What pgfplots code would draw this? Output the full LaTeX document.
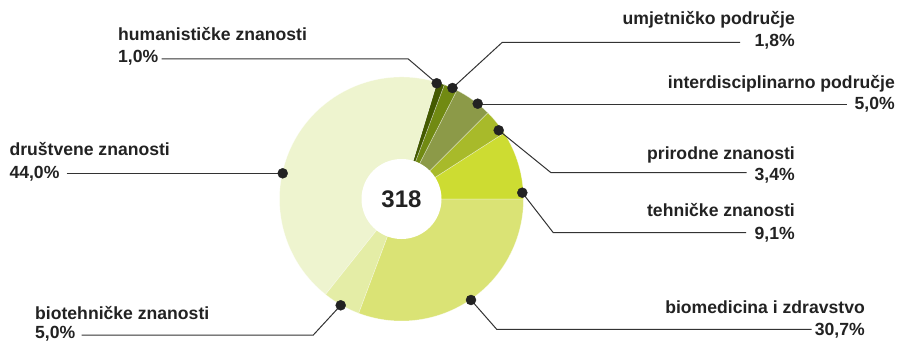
\documentclass[border=0pt]{standalone}
\usepackage{pgfplots}
\pgfplotsset{compat=1.18}
\usepackage{pgfplotstable}
\usepackage{fontspec}
\setmainfont{Liberation Sans}
\definecolor{cTeh}{HTML}{CDDC32}
\definecolor{cPri}{HTML}{A8BA2A}
\definecolor{cInt}{HTML}{8C9A48}
\definecolor{cUmj}{HTML}{718A12}
\definecolor{cHum}{HTML}{445A00}
\definecolor{cDru}{HTML}{EEF4CF}
\definecolor{cBio}{HTML}{E4EDA6}
\definecolor{cMed}{HTML}{DAE375}
\definecolor{txtC}{HTML}{222222}
\definecolor{lineC}{HTML}{333333}
\pgfplotstableread{
share color
9.1 cTeh
3.4 cPri
5.0 cInt
1.8 cUmj
1.0 cHum
44.0 cDru
5.0 cBio
30.7 cMed
}\piedata
\begin{document}
\begin{tikzpicture}[lab/.style={font=\bfseries\fontsize{17.6}{20}\selectfont,text=txtC,inner sep=0pt}]
\begin{axis}[width=897pt,height=342pt,scale only axis,
  xmin=0,xmax=897,ymin=0,ymax=342,y dir=reverse,hide axis,clip=false]
\pgfplotsextra{%
  \xdef\cumul{0}%
  \pgfplotstableforeachcolumnelement{share}\of\piedata\as\val{%
    \pgfplotstablegetelem{\pgfplotstablerow}{color}\of\piedata
    \edef\col{\pgfplotsretval}%
    \pgfmathsetmacro{\angA}{\cumul*3.6}%
    \pgfmathsetmacro{\angB}{(\cumul+\val)*3.6}%
    \fill[fill=\col, draw=white, line width=0.5pt, draw opacity=0.5] (axis cs:401.5,199) -- ++(\angA:122pt) arc[start angle=\angA, end angle=\angB, radius=122pt] -- cycle;
    \pgfmathsetmacro{\tmp}{\cumul+\val}%
    \xdef\cumul{\tmp}%
  }%
  \fill[white] (axis cs:401.5,199) circle[radius=40pt];
}
% leader lines
\addplot[no marks, draw=lineC, line width=1pt] coordinates {(161.7,59) (408.3,59) (436.7,83.3)};
\addplot[no marks, draw=lineC, line width=1pt] coordinates {(740,42.3) (502.3,42.3) (452.5,88)};
\addplot[no marks, draw=lineC, line width=1pt] coordinates {(846.7,104.3) (477.7,104.3)};
\addplot[no marks, draw=lineC, line width=1pt] coordinates {(746.7,172.7) (551,172.7) (498.7,130.3)};
\addplot[no marks, draw=lineC, line width=1pt] coordinates {(746,232.7) (553.3,232.7) (522.3,192.7)};
\addplot[no marks, draw=lineC, line width=1pt] coordinates {(811.7,329.3) (496.7,329.3) (471,300)};
\addplot[no marks, draw=lineC, line width=1pt] coordinates {(66.7,173.3) (282.7,173.3)};
\addplot[no marks, draw=lineC, line width=1pt] coordinates {(81.7,335) (313.3,335) (340.7,305.3)};
% dots
\addplot[only marks, mark=*, mark size=5pt, mark options={fill=txtC, draw=txtC}] coordinates {
(436.7,83.3) (452.5,88) (477.7,103.7) (498.7,130.3) (522.3,192.7) (471,300) (282.7,173.3) (340.7,305.3)};
% labels
\node[lab,anchor=base west] at (axis cs:118,40.5) {humanističke znanosti};
\node[lab,anchor=base west] at (axis cs:118,63) {1,0\%};
\node[lab,anchor=base east] at (axis cs:795,25) {umjetničko područje};
\node[lab,anchor=base east] at (axis cs:795,47) {1,8\%};
\node[lab,anchor=base east] at (axis cs:895,88.5) {interdisciplinarno područje};
\node[lab,anchor=base east] at (axis cs:895,110) {5,0\%};
\node[lab,anchor=base east] at (axis cs:795,159.5) {prirodne znanosti};
\node[lab,anchor=base east] at (axis cs:795,180) {3,4\%};
\node[lab,anchor=base east] at (axis cs:795,216.7) {tehničke znanosti};
\node[lab,anchor=base east] at (axis cs:795,239) {9,1\%};
\node[lab,anchor=base east] at (axis cs:865,313.3) {biomedicina i zdravstvo};
\node[lab,anchor=base east] at (axis cs:865,335) {30,7\%};
\node[lab,anchor=base west] at (axis cs:9.3,156) {društvene znanosti};
\node[lab,anchor=base west] at (axis cs:9.3,178.3) {44,0\%};
\node[lab,anchor=base west] at (axis cs:35,319) {biotehničke znanosti};
\node[lab,anchor=base west] at (axis cs:35,338) {5,0\%};
\node[font=\bfseries\fontsize{24}{26}\selectfont,text=txtC,inner sep=0pt] at (axis cs:401.5,199) {318};
\end{axis}
\pgfresetboundingbox
\useasboundingbox (current axis.south west) rectangle (current axis.north east);
\end{tikzpicture}
\end{document}
